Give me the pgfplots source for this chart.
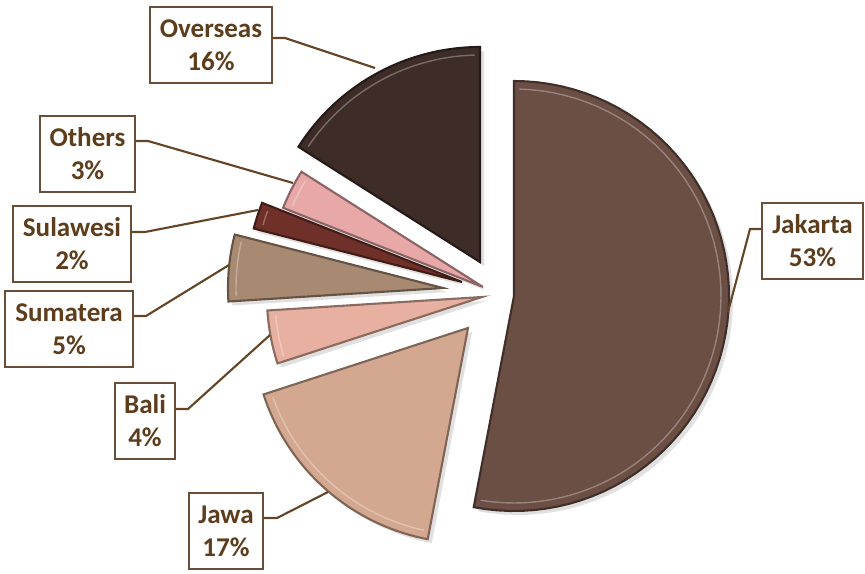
\documentclass[border=0pt]{standalone}
\usepackage{pgfplots}
\pgfplotsset{compat=1.18}
\usepackage{fontspec}
\setmainfont{Carlito}
\definecolor{txt}{RGB}{94,61,28}
\definecolor{bord}{RGB}{105,78,58}
\definecolor{lead}{RGB}{100,68,36}
\definecolor{cJak}{RGB}{107,78,68}
\definecolor{cJaw}{RGB}{212,168,144}
\definecolor{cBal}{RGB}{232,176,160}
\definecolor{cSum}{RGB}{168,138,114}
\definecolor{cSul}{RGB}{110,48,40}
\definecolor{cOth}{RGB}{232,168,168}
\definecolor{cOve}{RGB}{62,44,38}
\tikzset{lbl/.style={draw=bord, line width=0.6pt, fill=white, text=txt, font=\fontsize{7.7}{9.4}\selectfont\bfseries, align=center, inner sep=0pt, minimum height=7.6mm}}
% slice: colour, cumulative start (%), share (%), tip x, tip y
\newcommand\slice[5]{%
 \pgfmathsetmacro\angA{90-3.6*(#2+#3)}%
 \pgfmathsetmacro\angB{90-3.6*#2}%
 \edef\temp{\noexpand\addplot[draw=none, fill=black, fill opacity=0.12, domain=\angA:\angB, samples=60] ({#4+4+215*cos(x)},{#5-4+215*sin(x)}) -- (axis cs:#4+4,#5-4) -- cycle;
 \noexpand\addplot[fill=#1, draw=#1!60!black, line width=0.6pt, domain=\angA:\angB, samples=60] ({#4+215*cos(x)},{#5+215*sin(x)}) -- (axis cs:#4,#5) -- cycle;
 \noexpand\addplot[draw=#1!70!white, line width=0.4pt, domain=\angA+1.5:\angB-1.5, samples=60] ({#4+207*cos(x)},{#5+207*sin(x)});}%
 \temp}
\begin{document}
\begin{tikzpicture}
\begin{axis}[
  scale only axis, width=8.65cm, height=5.73cm,
  xmin=0, xmax=865, ymin=0, ymax=573,
  hide axis, clip=false,
  ]
\path (axis cs:0,0) (axis cs:865,573);
\slice{cJak}{0}{53}{514}{277}
\slice{cJaw}{53}{17}{468}{245}
\slice{cBal}{70}{4}{482}{276}
\slice{cSum}{74}{5}{443}{285}
\slice{cSul}{79}{2}{462}{291}
\slice{cOth}{81}{3}{483}{286}
\slice{cOve}{84}{16}{480}{311}
% leader lines
\addplot[lead, line width=0.6pt, sharp plot] coordinates {(762,344) (750,344) (728,261)};
\addplot[lead, line width=0.6pt, sharp plot] coordinates {(263,55) (277,55) (328,81)};
\addplot[lead, line width=0.6pt, sharp plot] coordinates {(175,164) (188,164) (270,238)};
\addplot[lead, line width=0.6pt, sharp plot] coordinates {(133,257) (146,257) (229,308)};
\addplot[lead, line width=0.6pt, sharp plot] coordinates {(131,341) (145,341) (258,363)};
\addplot[lead, line width=0.6pt, sharp plot] coordinates {(135,432) (148,432) (293,390)};
\addplot[lead, line width=0.6pt, sharp plot] coordinates {(272,535) (285,535) (375,505)};
% labels
\node[lbl, minimum width=10.1mm] at (axis cs:812.5,332) {Jakarta\\53\%};
\node[lbl, minimum width=7.4mm] at (axis cs:226,42) {Jawa\\17\%};
\node[lbl, minimum width=6.0mm] at (axis cs:145,152) {Bali\\4\%};
\node[lbl, minimum width=12.8mm] at (axis cs:69,244) {Sumatera\\5\%};
\node[lbl, minimum width=11.8mm] at (axis cs:72,329) {Sulawesi\\2\%};
\node[lbl, minimum width=9.5mm] at (axis cs:87.5,419) {Others\\3\%};
\node[lbl, minimum width=12.2mm] at (axis cs:211,528) {Overseas\\16\%};
\end{axis}
\end{tikzpicture}
\end{document}
